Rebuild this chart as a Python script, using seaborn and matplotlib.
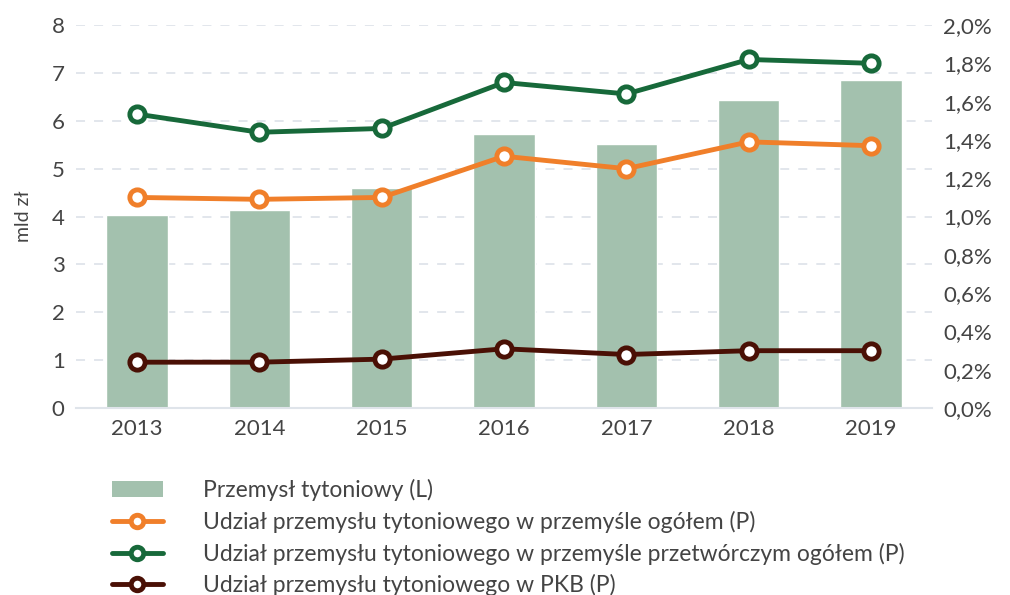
import matplotlib
matplotlib.use('Agg')
import pandas as pd
import seaborn as sns
import matplotlib.pyplot as plt
from matplotlib.patches import Patch
from matplotlib.lines import Line2D
from matplotlib.ticker import FuncFormatter

##
# data

years = ['2013', '2014', '2015', '2016', '2017', '2018', '2019']
industry_bn = [4.03, 4.13, 4.59, 5.72, 5.51, 6.43, 6.85]
share_industry = [1.10, 1.09, 1.10, 1.315, 1.25, 1.39, 1.37]
share_manufacturing = [1.535, 1.44, 1.46, 1.70, 1.64, 1.82, 1.80]
share_gdp = [0.24, 0.24, 0.256, 0.31, 0.28, 0.30, 0.30]

labels = ['Przemysł tytoniowy (L)',
          'Udział przemysłu tytoniowego w przemyśle ogółem (P)',
          'Udział przemysłu tytoniowego w przemyśle przetwórczym ogółem (P)',
          'Udział przemysłu tytoniowego w PKB (P)']

bar_color = '#a3c1ae'
line_colors = ['#f07f2a', '#17693a', '#4a1005']

##
# figure

sns.set_style('white')
plt.rcParams['font.family'] = ['Lato', 'DejaVu Sans']
plt.rcParams['font.weight'] = 'normal'
plt.rcParams['axes.labelweight'] = 'normal'
text_color = '#444444'

fig = plt.figure(figsize=(10.1, 5.95), dpi=100)
ax = fig.add_axes([0.075, 0.314, 0.848, 0.644])

bars_df = pd.DataFrame({'year': years, 'value': industry_bn})
sns.barplot(data=bars_df, x='year', y='value', color=bar_color,
            saturation=1, width=0.5, ax=ax, zorder=2)
ax.set_ylim(0, 8)
ax.set_xlim(-0.5, 6.5)
ax.set_yticks(range(0, 9))
ax.yaxis.grid(True, linestyle=(0, (5, 5)), color='#dfe4ea', linewidth=1.3, zorder=0)
ax.set_axisbelow(True)
ax.set_xlabel('')
ax.set_ylabel('mld zł', fontsize=14, color=text_color, labelpad=14)
ax.tick_params(axis='both', labelsize=16, colors=text_color, length=0, pad=8)
for side in ['top', 'right', 'left']:
    ax.spines[side].set_visible(False)
ax.spines['bottom'].set_color('#dfe4ea')
ax.spines['bottom'].set_linewidth(1.5)

ax2 = ax.twinx()
series = [share_industry, share_manufacturing, share_gdp]
for values, color in zip(series, line_colors):
    df = pd.DataFrame({'year': years, 'share': values})
    sns.pointplot(data=df, x='year', y='share', color=color, ax=ax2,
                  markers='o', markersize=11, markerfacecolor='white',
                  markeredgecolor=color, markeredgewidth=3.5,
                  linewidth=3.5, zorder=3)
ax2.set_ylim(0, 2.0)
ax2.set_xlim(-0.5, 6.5)
ax2.set_yticks([i * 0.2 for i in range(11)])
ax2.yaxis.set_major_formatter(FuncFormatter(lambda v, p: f'{v:.1f}%'.replace('.', ',')))
ax2.set_ylabel('')
ax2.set_xlabel('')
ax2.tick_params(axis='both', labelsize=16, colors=text_color, length=0, pad=8)
for side in ['top', 'right', 'left', 'bottom']:
    ax2.spines[side].set_visible(False)

##
# legend

handles = [Patch(facecolor=bar_color, edgecolor='none')]
for color in line_colors:
    handles.append(Line2D([0], [0], color=color, linewidth=3.5, marker='o',
                          markersize=9, markerfacecolor='white',
                          markeredgecolor=color, markeredgewidth=3.5))
fig.legend(handles, labels, loc='upper left', bbox_to_anchor=(0.102, 0.21),
           frameon=False, fontsize=16.5, labelcolor=text_color,
           handlelength=2.2, handletextpad=1.75, labelspacing=0.42,
           borderaxespad=0)

fig.savefig('out.png', dpi=100)
